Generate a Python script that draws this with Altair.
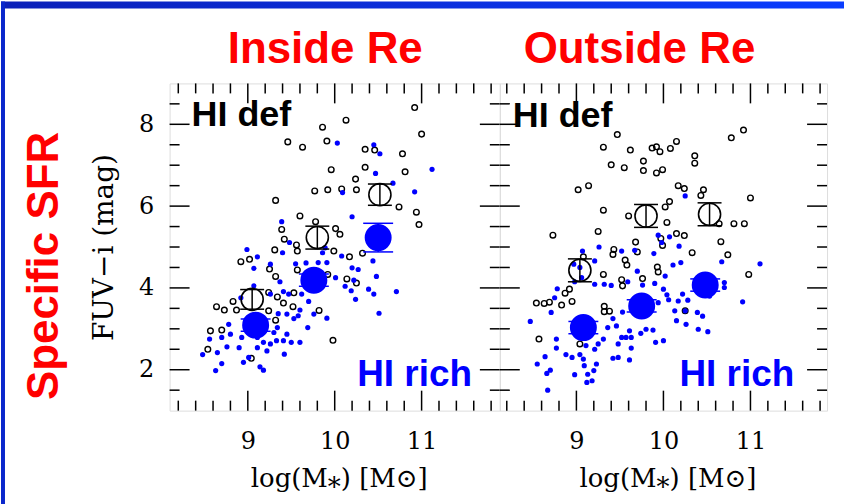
import altair as alt
import pandas as pd

# ---------------- data ----------------
# Inside Re : HI-deficient galaxies (open black circles)
in_def_x = [10.92, 11.00, 10.13, 9.86, 9.46, 9.63, 9.91, 10.35, 10.46, 10.78, 9.96, 10.35, 10.81, 10.24,
            9.77, 9.92, 10.08, 10.25, 9.32, 10.74, 10.94, 10.97, 9.60, 9.39, 9.78, 10.01, 10.06, 9.42,
            9.56, 9.31, 9.57, 9.99, 10.17, 10.32, 8.92, 9.02, 9.25, 9.32, 9.57, 9.92, 10.14, 10.25,
            9.53, 9.34, 9.24, 8.83, 8.64, 8.73, 8.87, 9.41, 9.52, 9.82, 9.24, 9.32, 8.57, 8.70, 8.54,
            9.04, 9.98]
in_def_y = [8.41, 7.76, 8.10, 7.93, 7.57, 7.44, 7.59, 7.39, 7.37, 7.28, 6.89, 6.95, 6.84, 6.66,
            6.37, 6.40, 6.42, 6.40, 6.14, 5.98, 5.85, 5.55, 5.76, 5.43, 5.62, 5.45, 5.31, 5.19,
            5.05, 4.93, 4.90, 4.90, 4.76, 4.85, 4.64, 4.70, 4.46, 4.28, 4.44, 4.33, 4.22, 4.12,
            3.88, 3.78, 3.89, 3.67, 3.54, 3.46, 3.46, 3.63, 3.54, 3.45, 3.44, 3.21, 2.95, 2.97, 2.50,
            2.28, 2.72]
# Inside Re : HI-rich galaxies (small blue dots)
in_rich_x = [10.03, 10.45, 10.52, 10.47, 10.67, 11.12, 10.92, 10.09, 10.20, 9.39, 9.48, 8.99, 9.11, 9.40,
             9.86, 9.89, 10.08, 9.91, 9.07, 9.26, 9.55, 9.67, 9.81, 10.20, 10.27, 10.44, 10.48, 10.01,
             10.22, 10.12, 10.19, 10.39, 10.45, 10.71, 10.24, 10.51, 9.91, 9.76, 9.37, 9.41, 9.47, 9.62,
             9.70, 9.60, 9.45, 9.53, 9.35, 9.26, 9.07, 8.92, 8.78, 8.80, 8.70, 8.56, 8.48, 8.65, 8.76,
             8.63, 8.70, 8.95, 9.01, 9.14, 9.18, 9.26, 9.22, 9.11, 9.18, 9.33, 9.41, 9.50, 9.60, 9.42,
             8.90, 8.93, 9.11, 9.30, 9.34, 9.45, 9.58, 9.69]
in_rich_y = [7.54, 7.50, 7.28, 6.80, 6.56, 6.90, 6.35, 6.33, 5.74, 5.62, 5.11, 4.94, 4.76, 4.86,
             4.86, 4.98, 4.78, 4.62, 4.48, 4.58, 4.59, 4.61, 4.62, 4.49, 4.45, 4.66, 4.28, 4.25,
             4.19, 4.04, 3.93, 3.97, 3.85, 3.91, 3.72, 3.38, 3.26, 3.36, 4.15, 3.91, 3.85, 3.85,
             3.67, 3.46, 3.36, 3.25, 3.37, 3.85, 4.05, 3.76, 3.11, 2.87, 2.79, 2.75, 2.37, 2.42, 2.56,
             1.98, 2.15, 2.18, 2.30, 2.07, 1.99, 2.63, 2.46, 2.54, 2.67, 2.71, 2.71, 2.67, 2.67, 2.38,
             2.54, 2.79, 2.79, 2.91, 3.03, 2.87, 3.32, 3.03]
# Inside Re : binned means with errors
in_def_mean_x = [9.05, 9.80, 10.52]
in_def_mean_y = [3.72, 5.23, 6.28]
in_def_mean_err = [0.24, 0.28, 0.26]
in_rich_mean_x = [9.09, 9.76, 10.50]
in_rich_mean_y = [3.09, 4.19, 5.23]
in_rich_mean_err = [0.15, 0.15, 0.35]

# Outside Re : HI-deficient galaxies
out_def_x = [10.92, 10.78, 9.47, 9.31, 9.62, 9.87, 9.92, 9.96, 10.08, 10.15, 10.36, 10.36, 9.77, 9.77,
             9.40, 9.55, 9.92, 9.99, 9.02, 9.14, 10.17, 10.24, 10.46, 10.43, 11.00, 9.31, 9.60, 10.02,
             10.07, 10.04, 10.64, 10.81, 10.93, 8.73, 9.25, 10.15, 10.24, 9.97, 9.99, 9.68, 9.70, 9.43,
             9.42, 9.56, 9.58, 10.33, 10.74, 10.66, 9.08, 9.93, 9.94, 9.31, 9.52, 9.53, 9.76, 10.98,
             8.92, 8.87, 8.95, 8.83, 8.54, 8.63, 8.69, 9.32, 9.38, 9.32, 10.25, 8.57, 9.04]
out_def_y = [7.86, 7.67, 7.75, 7.44, 7.37, 7.42, 7.45, 7.33, 7.41, 7.58, 7.23, 7.05, 7.10, 6.87,
             7.01, 6.94, 6.81, 6.89, 6.40, 6.50, 6.50, 6.43, 6.40, 6.26, 6.20, 5.90, 5.76, 5.98,
             6.11, 5.60, 5.57, 5.57, 5.57, 5.29, 5.38, 5.33, 5.28, 5.21, 5.04, 5.12, 4.88, 4.94,
             4.82, 4.68, 4.56, 4.86, 4.81, 5.13, 4.76, 4.51, 4.39, 4.33, 4.20, 4.05, 4.23, 4.33,
             3.97, 3.87, 3.67, 3.58, 3.63, 3.62, 3.65, 3.55, 3.43, 3.42, 3.44, 2.75, 2.63]
# Outside Re : HI-rich galaxies
out_rich_x = [10.25, 9.94, 10.07, 9.98, 10.18, 9.26, 9.07, 8.97, 9.04, 9.21, 9.89, 9.67, 9.52, 10.11,
              10.20, 10.67, 11.11, 9.70, 9.59, 10.02, 9.90, 9.76, 10.00, 10.04, 10.22, 10.06, 10.17,
              10.28, 10.70, 10.53, 10.70, 10.91, 10.39, 10.45, 10.51, 10.40, 10.26, 10.15, 10.25, 10.13,
              9.94, 9.71, 9.53, 9.42, 9.36, 9.46, 9.52, 9.57, 9.61, 9.63, 9.74, 9.80, 9.88, 9.91, 10.00,
              9.48, 9.63, 9.61, 9.48, 9.42, 9.31, 9.25, 9.21, 9.11, 9.23, 9.20, 9.09, 9.08, 9.04, 9.13,
              9.12, 9.18, 8.98, 8.95, 8.88, 8.77, 8.77, 8.71, 8.78, 8.64, 8.55, 8.66, 8.70, 8.67, 8.47,
              8.98, 9.06, 9.21, 9.32, 9.40, 8.75]
out_rich_y = [6.25, 5.29, 5.25, 5.11, 5.02, 5.00, 4.90, 4.58, 4.50, 4.66, 4.84, 4.92, 4.90, 4.56,
              4.62, 4.64, 4.59, 4.41, 4.15, 4.29, 4.11, 4.07, 3.97, 3.83, 3.85, 3.71, 3.68,
              3.70, 4.13, 3.80, 4.01, 3.66, 3.40, 3.31, 2.93, 2.99, 3.11, 3.20, 3.44, 3.44,
              3.64, 3.44, 3.41, 3.25, 3.03, 3.07, 2.79, 2.79, 2.95, 2.79, 2.89, 2.99, 2.97, 2.67, 2.71,
              2.63, 2.53, 2.24, 2.30, 2.28, 2.75, 2.63, 2.50, 2.59, 2.14, 1.98, 2.10, 2.26, 2.37, 1.89,
              1.69, 1.73, 1.88, 2.30, 2.37, 2.75, 2.53, 3.40, 3.98, 2.32, 2.14, 1.91, 1.99, 1.50, 3.18,
              4.15, 4.25, 4.09, 4.09, 4.06, 3.76]
out_def_mean_x = [9.04, 9.80, 10.53]
out_def_mean_y = [4.43, 5.76, 5.80]
out_def_mean_err = [0.28, 0.28, 0.28]
out_rich_mean_x = [9.08, 9.75, 10.48]
out_rich_mean_y = [3.03, 3.56, 4.07]
out_rich_mean_err = [0.15, 0.15, 0.15]

# axis ticks / labels
Y_MAJOR = [2, 4, 6, 8]
Y_MINOR = [1.5, 2.5, 3, 3.5, 4.5, 5, 5.5, 6.5, 7, 7.5, 8.5]
X_MAJOR = [9, 10, 11]
X_MINOR = [8.2, 8.4, 8.6, 8.8, 9.2, 9.4, 9.6, 9.8, 10.2, 10.4, 10.6, 10.8, 11.2, 11.4, 11.6, 11.8]
Y_DOMAIN = [1, 9]
X_DOMAIN_IN = [8.1, 11.9]
X_DOMAIN_OUT = [8.12, 11.88]

TITLE_IN = "Inside Re"
TITLE_OUT = "Outside Re"
Y_TITLE = "FUV\u2212i (mag)"
X_TITLE = "log(M\u204e) [M\u2299]"
SIDE_TITLE = "Specific SFR"

# ---------------- styling ----------------
SANS = "Liberation Sans"
SERIF = "DejaVu Serif"
BLUE = "#0000ff"
RED = "#ff0000"
H = 328
W_IN, W_OUT = 331, 328
MAJ, MIN = 20, 10
ONE = alt.Data(values=[{}])


def text(t, x, y, size, color, angle=0, align="left", font=SANS, weight="bold"):
    kw = dict(text=t, font=font, fontSize=size, fontWeight=weight, color=color,
              align=align, baseline="alphabetic")
    if angle:
        kw["angle"] = angle
    return alt.Chart(ONE).mark_text(**kw).encode(x=alt.value(x), y=alt.value(y))


def panel(W, xdom, dx, dy, rx, ry, mdx, mdy, mde, mrx, mry, mre, show_y, extras):
    xs = alt.Scale(domain=xdom, nice=False, zero=False)
    ys = alt.Scale(domain=Y_DOMAIN, nice=False, zero=False)
    xax = alt.Axis(values=X_MAJOR, ticks=False, domain=False, grid=False,
                   labelFont=SERIF, labelFontSize=24, labelPadding=19, labelColor="black",
                   labelFlush=False, labelOverlap=False,
                   title=X_TITLE, titleFont=SERIF, titleFontSize=26, titleFontWeight="normal",
                   titleColor="black", titleX=W / 2 + 4, titleY=76, titleBaseline="alphabetic",
                   titleAlign="center")
    if show_y:
        yax = alt.Axis(values=Y_MAJOR, ticks=False, domain=False, grid=False,
                       labelFont=SERIF, labelFontSize=24, labelPadding=16, labelColor="black",
                       labelFlush=False, labelOverlap=False,
                       title=Y_TITLE, titleFont=SERIF, titleFontSize=28, titleFontWeight="normal",
                       titleColor="black", titleAngle=270, titleX=-57, titleY=H / 2,
                       titleBaseline="alphabetic", titleAlign="center")
    else:
        yax = None

    def X(f):
        return alt.X(f, type="quantitative", scale=xs, axis=xax)

    def Y(f):
        return alt.Y(f, type="quantitative", scale=ys, axis=yax)

    ymaj = pd.DataFrame({"v": Y_MAJOR})
    ymin = pd.DataFrame({"v": Y_MINOR})
    xmaj = pd.DataFrame({"v": X_MAJOR})
    xmin = pd.DataFrame({"v": X_MINOR})
    tk = dict(color="black", strokeWidth=1.5)
    layers = []
    for df, L in ((ymaj, MAJ), (ymin, MIN)):
        layers.append(alt.Chart(df).mark_rule(**tk).encode(y=Y("v"), x=alt.value(0), x2=alt.value(L)))
        layers.append(alt.Chart(df).mark_rule(**tk).encode(y=Y("v"), x=alt.value(W), x2=alt.value(W - L)))
    for df, L in ((xmaj, MAJ), (xmin, MIN)):
        layers.append(alt.Chart(df).mark_rule(**tk).encode(x=X("v"), y=alt.value(H), y2=alt.value(H - L)))
        layers.append(alt.Chart(df).mark_rule(**tk).encode(x=X("v"), y=alt.value(0), y2=alt.value(L)))

    d_def = pd.DataFrame({"x": dx, "y": dy})
    d_rich = pd.DataFrame({"x": rx, "y": ry})
    m_def = pd.DataFrame({"x": mdx, "y": mdy, "e": mde})
    m_def["lo"] = m_def["y"] - m_def["e"]
    m_def["hi"] = m_def["y"] + m_def["e"]
    m_rich = pd.DataFrame({"x": mrx, "y": mry, "e": mre})
    m_rich["lo"] = m_rich["y"] - m_rich["e"]
    m_rich["hi"] = m_rich["y"] + m_rich["e"]

    layers.append(alt.Chart(d_def).mark_point(shape="circle", filled=False, size=32, strokeWidth=1.4,
                                              color="black", opacity=1).encode(x=X("x"), y=Y("y")))
    layers.append(alt.Chart(d_rich).mark_circle(size=27, color=BLUE, opacity=1).encode(x=X("x"), y=Y("y")))
    # HI-rich means
    layers.append(alt.Chart(m_rich).mark_rule(color=BLUE, strokeWidth=1.5).encode(x=X("x"), y=Y("lo"), y2="hi"))
    for f in ("lo", "hi"):
        layers.append(alt.Chart(m_rich).mark_tick(orient="horizontal", size=30, thickness=1.5, color=BLUE,
                                                  opacity=1).encode(x=X("x"), y=Y(f)))
    layers.append(alt.Chart(m_rich).mark_circle(size=730, color=BLUE, opacity=1).encode(x=X("x"), y=Y("y")))
    # HI-deficient means
    layers.append(alt.Chart(m_def).mark_rule(color="black", strokeWidth=1.5).encode(x=X("x"), y=Y("lo"), y2="hi"))
    for f in ("lo", "hi"):
        layers.append(alt.Chart(m_def).mark_tick(orient="horizontal", size=24, thickness=1.5, color="black",
                                                 opacity=1).encode(x=X("x"), y=Y(f)))
    layers.append(alt.Chart(m_def).mark_point(shape="circle", filled=False, size=490, strokeWidth=1.6,
                                              color="black", opacity=1).encode(x=X("x"), y=Y("y")))
    layers += extras
    return alt.layer(*layers).properties(width=W, height=H)


# slide decorations for the left panel (pixel offsets relative to its plot area)
top_bar = alt.Chart(ONE).mark_rect(
    color=alt.Gradient(gradient="linear",
                       stops=[alt.GradientStop(color="#0b20b8", offset=0),
                              alt.GradientStop(color="#0a3dff", offset=1)],
                       x1=0, x2=1, y1=0, y2=0)
).encode(x=alt.value(-169), x2=alt.value(676), y=alt.value(-82), y2=alt.value(-75))
left_bar = alt.Chart(ONE).mark_rect(color="#0a27cc").encode(
    x=alt.value(-169), x2=alt.value(-165), y=alt.value(-82), y2=alt.value(422))

extras_in = [
    top_bar, left_bar,
    text(SIDE_TITLE, -112, 183, 44, RED, angle=270, align="center"),
    text(TITLE_IN, 156, -20, 44, RED, align="center"),
    text("HI def", 22, 43, 36, "black"),
    text("HI rich", 188, 303, 37, BLUE),
]
extras_out = [
    text(TITLE_OUT, 140, -20, 44, RED, align="center"),
    text("HI def", 13, 44, 36, "black"),
    text("HI rich", 180, 303, 37, BLUE),
]

left = panel(W_IN, X_DOMAIN_IN, in_def_x, in_def_y, in_rich_x, in_rich_y,
             in_def_mean_x, in_def_mean_y, in_def_mean_err,
             in_rich_mean_x, in_rich_mean_y, in_rich_mean_err, True, extras_in)
right = panel(W_OUT, X_DOMAIN_OUT, out_def_x, out_def_y, out_rich_x, out_rich_y,
              out_def_mean_x, out_def_mean_y, out_def_mean_err,
              out_rich_mean_x, out_rich_mean_y, out_rich_mean_err, False, extras_out)

chart = alt.hconcat(left, right, spacing=0, bounds="flush").properties(
    padding=0, background="white"
).configure_view(stroke="black", strokeWidth=2).configure(font=SANS)

chart.save("out.html", embed_options={"renderer": "svg", "actions": False})
